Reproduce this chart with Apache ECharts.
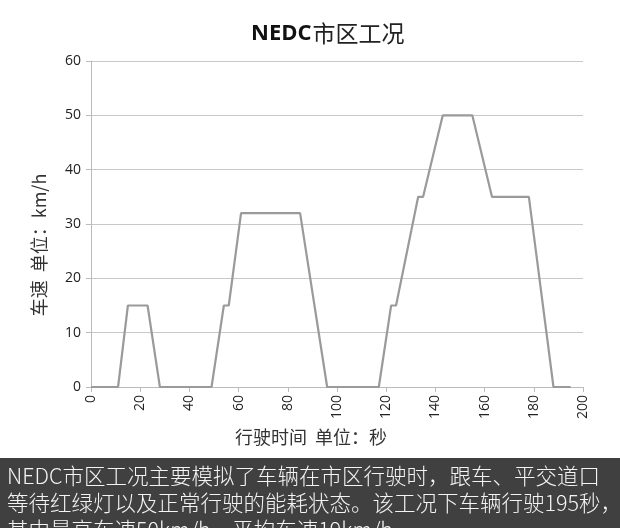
<!DOCTYPE html>
<html><head><meta charset="utf-8">
<script src="https://cdn.jsdelivr.net/npm/echarts@6/dist/echarts.min.js"></script>
<style>html,body{margin:0;padding:0;background:#fff;}#c{width:620px;height:528px;}</style>
</head><body><div id="c"></div>
<script>
var times = [0,11,15,23,28,49,54,56,61,85,96,117,122,124,133,135,143,155,163,178,188,195];
var speeds = [0,0,15,15,0,0,15,15,32,32,0,0,15,15,35,35,50,50,35,35,0,0];
var xTicks = [0,20,40,60,80,100,120,140,160,180,200];
var yTicks = [0,10,20,30,40,50,60];
var captionLines = [
  'NEDC市区工况主要模拟了车辆在市区行驶时，跟车、平交道口',
  '等待红绿灯以及正常行驶的能耗状态。该工况下车辆行驶195秒，',
  '其中最高车速50km/h，平均车速19km/h。'
];

var pts = times.map(function(t,i){return [t, speeds[i]];});
var font = '"Open Sans","Noto Sans CJK SC",sans-serif';
var cjk = '"Noto Sans CJK SC",sans-serif';
var chart = echarts.init(document.getElementById('c'));
chart.setOption({
  animation:false,
  textStyle:{fontFamily:font},
  title:{text:'{b|NEDC}{n|市区工况}', left:246, top:17,
    textStyle:{rich:{b:{fontSize:22,fontWeight:'bold',color:'#111',fontFamily:font},
                     n:{fontSize:23,fontWeight:'normal',color:'#222',fontFamily:cjk,padding:[0,0,0,1]}}}},
  grid:{left:91,right:37,top:61,bottom:141},
  xAxis:{type:'value',min:0,max:200,interval:20,
    name:'行驶时间  单位：秒',nameLocation:'middle',nameGap:41,
    nameTextStyle:{fontSize:18,color:'#333',fontFamily:cjk,padding:[0,52,0,0]},
    axisLine:{show:true,lineStyle:{color:'#bbb'}},
    axisTick:{show:true,length:5,lineStyle:{color:'#bbb'}},
    axisLabel:{rotate:90,fontSize:14,color:'#222',margin:8},
    splitLine:{show:false}},
  yAxis:{type:'value',min:0,max:60,interval:10,
    name:'车速  单位：km/h',nameLocation:'middle',nameGap:43,
    nameTextStyle:{fontSize:18,color:'#333',fontFamily:cjk,padding:[0,42,0,0]},
    axisLine:{show:true,lineStyle:{color:'#bbb'}},
    axisTick:{show:true,length:5,lineStyle:{color:'#bbb'}},
    axisLabel:{fontSize:14,color:'#222',margin:10},
    splitLine:{show:true,lineStyle:{color:'#c8c8c8'}}},
  series:[{type:'line',data:pts,symbol:'none',lineStyle:{color:'#9a9a9a',width:2.2}}],
  graphic:[
    {type:'rect',left:0,top:458,shape:{width:620,height:70},style:{fill:'#404040'}},
    {type:'text',left:7,top:462,style:{text:captionLines.join('\n'),
      font:'300 21.5px "Noto Sans CJK SC",sans-serif',fill:'#f4f4f4',lineHeight:27}}
  ]
});
</script></body></html>
